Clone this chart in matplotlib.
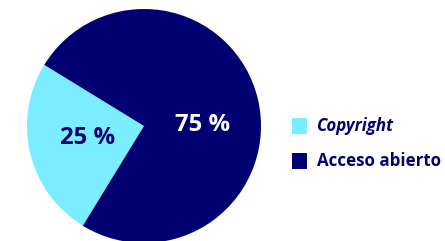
import matplotlib
matplotlib.use("Agg")
import matplotlib.pyplot as plt
from matplotlib.patches import Rectangle

labels = ["Copyright", "Acceso abierto"]
values = [25, 75]
pct_labels = ["25 %", "75 %"]
colors = ["#7aeeff", "#000073"]
text_colors = ["#000073", "#ffffff"]

W, H = 445, 241
fig = plt.figure(figsize=(W / 100, H / 100), dpi=100)
cx, cy, r = 144, 126, 117
ax = fig.add_axes([(cx - r) / W, 1 - (cy + r) / H, 2 * r / W, 2 * r / H])
wedges, texts = ax.pie(values, colors=colors, startangle=148.5, counterclock=True,
                       radius=1.0, wedgeprops=dict(linewidth=0))
ax.set_xlim(-1, 1)
ax.set_ylim(-1, 1)
ax.set_aspect("equal")
ax.axis("off")

renderer = fig.canvas.get_renderer()
FONT = "Open Sans"


def fit(t, target_px):
    w = t.get_window_extent(renderer).width
    t.set_fontsize(t.get_fontsize() * target_px / w)


# percentage labels
pos = [(-0.48, -0.10), (0.50, 0.01)]
pct_texts = []
for (x, y), t, c in zip(pos, pct_labels, text_colors):
    tt = ax.text(x, y, t, ha="center", va="center", color=c, fontsize=19,
                 fontweight="bold", family=FONT)
    pct_texts.append(tt)
fit(pct_texts[1], 55)
pct_texts[0].set_fontsize(pct_texts[1].get_fontsize())

# legend
leg_y = [126, 161]
leg_texts = []
for i, (lab, col) in enumerate(zip(labels, colors)):
    y = leg_y[i]
    fig.patches.append(Rectangle((292 / W, 1 - (y + 8) / H), 15 / W, 16 / H,
                                 transform=fig.transFigure, color=col, lw=0))
    tt = fig.text(317 / W, 1 - y / H, lab, ha="left", va="center", color="#000073",
                  fontsize=13, fontweight="bold", family=FONT,
                  style="italic" if i == 0 else "normal")
    leg_texts.append(tt)
fit(leg_texts[1], 122)
leg_texts[0].set_fontsize(leg_texts[1].get_fontsize())

fig.savefig("out.png", dpi=100)
